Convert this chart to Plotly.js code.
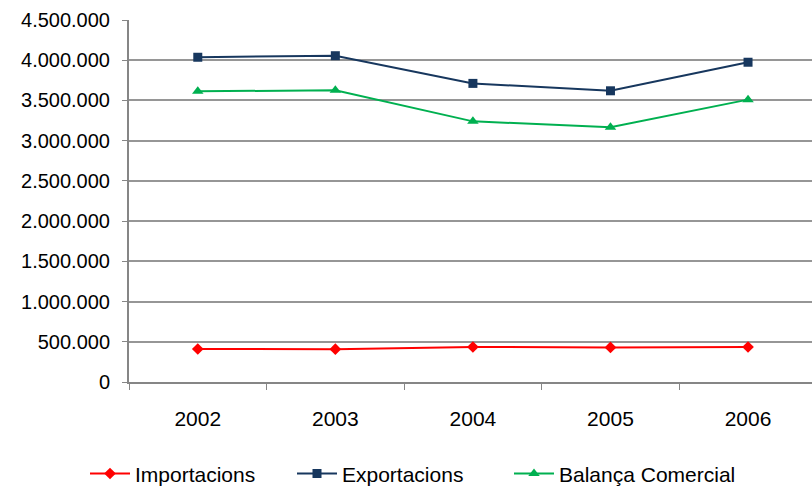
<!DOCTYPE html>
<html>
<head>
<meta charset="utf-8">
<script src="https://cdn.plot.ly/plotly-3.0.1.min.js"></script>
<style>html,body{margin:0;padding:0;background:#fff;}#chart{width:812px;height:486px;}</style>
</head>
<body>
<div id="chart"></div>
<script>
const years = ["2002", "2003", "2004", "2005", "2006"];
const importacions = [410000, 408000, 435000, 430000, 435000];
const exportacions = [4037000, 4056000, 3712000, 3620000, 3975000];
const balancaComercial = [3614000, 3626000, 3240000, 3168000, 3510000];
const seriesNames = ["Importacions", "Exportacions", "Balança Comercial"];

const traces = [
  {x: years, y: importacions, name: seriesNames[0], type: "scatter", mode: "lines+markers", legend: "legend",
   line: {color: "#FF0000", width: 2}, marker: {symbol: "diamond", size: 9, color: "#FF0000"}},
  {x: years, y: exportacions, name: seriesNames[1], type: "scatter", mode: "lines+markers", legend: "legend2",
   line: {color: "#17375E", width: 2}, marker: {symbol: "square", size: 9, color: "#17375E"}},
  {x: years, y: balancaComercial, name: seriesNames[2], type: "scatter", mode: "lines+markers", legend: "legend3",
   line: {color: "#00B050", width: 2}, marker: {symbol: "triangle-up", size: 10, color: "#00B050"}}
];

function legendAt(xpx) {
  return {orientation: "h", xref: "container", yref: "container", x: xpx / 812, xanchor: "left",
          y: 0.025, yanchor: "middle", font: {size: 21}, itemwidth: 40, bgcolor: "rgba(0,0,0,0)"};
}

const layout = {
  width: 812, height: 486,
  margin: {l: 129, r: 0, t: 20, b: 104},
  paper_bgcolor: "#fff", plot_bgcolor: "#fff",
  separators: ",.",
  font: {family: "Liberation Sans, Arial, sans-serif", color: "#000"},
  showlegend: true,
  legend: legendAt(85),
  legend2: legendAt(292),
  legend3: legendAt(509),
  xaxis: {type: "category", range: [-0.5, 4.465], showgrid: false, showline: true, linecolor: "#868686", linewidth: 2,
          ticks: "outside", ticklen: 6, tickcolor: "#868686", tickwidth: 1, tickson: "boundaries",
          tickfont: {size: 21}, ticklabelstandoff: 17, zeroline: false, fixedrange: true},
  yaxis: {range: [0, 4500000], dtick: 500000, tickformat: ",d", showgrid: true, gridcolor: "#969696", gridwidth: 2,
          showline: true, linecolor: "#868686", linewidth: 2, ticks: "outside", ticklen: 5, tickcolor: "#868686",
          tickfont: {size: 20}, ticklabelstandoff: 8, zeroline: false, fixedrange: true}
};

Plotly.newPlot("chart", traces, layout, {displayModeBar: false, staticPlot: true});
</script>
</body>
</html>
